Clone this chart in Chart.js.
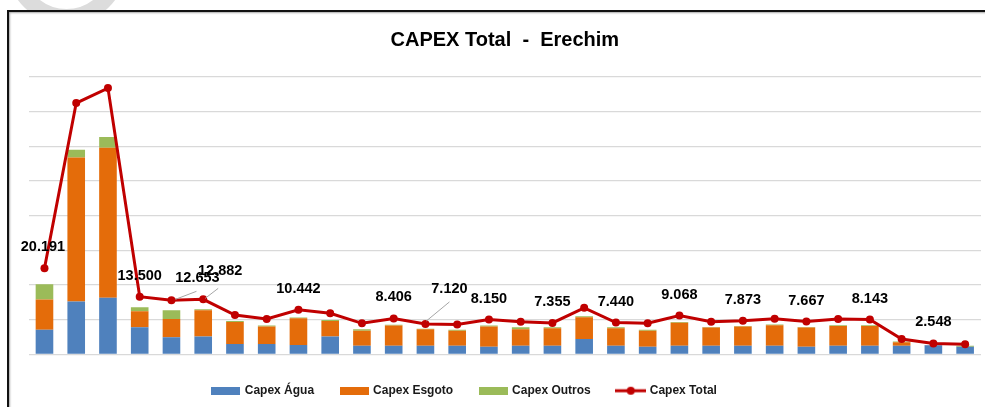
<!DOCTYPE html>
<html>
<head>
<meta charset="utf-8">
<script src="https://cdn.jsdelivr.net/npm/chart.js@4.4.1/dist/chart.umd.min.js"></script>
<style>
    html, body { margin: 0; padding: 0; background: #fff; width: 985px; height: 407px; overflow: hidden; }
    .mark { position: absolute; left: 7px; top: -94px; width: 119px; height: 119px; box-sizing: border-box;
            border: 16px solid #dcdcdc; border-radius: 50%; z-index: 0; }
    .frame { position: absolute; left: 7px; top: 10px; width: 1100px; height: 500px; background: #fff;
             border-left: 2px solid #111; border-top: 2px solid #111;
             box-shadow: inset 1px 1px 2px rgba(0,0,0,0.35); z-index: 1; }
    #capexChart { position: absolute; left: 0; top: 0; z-index: 2; }
</style>
</head>
<body>
<div class="mark"></div>
<div class="frame"></div>
<canvas id="capexChart" width="985" height="407"></canvas>
<script>
// CAPEX Total - Erechim (R$ mil)
const periods = ['1', '2', '3', '4', '5', '6', '7', '8', '9', '10',
                 '11', '12', '13', '14', '15', '16', '17', '18', '19', '20',
                 '21', '22', '23', '24', '25', '26', '27', '28', '29', '30'];

const capexAgua = [7100, 15200, 16300, 7800, 4900, 5100, 3000, 3000, 2700, 5100,
                   2500, 2500, 2500, 2500, 2200, 2500, 2500, 4400, 2500, 2200,
                   2500, 2500, 2500, 2500, 2200, 2500, 2500, 2500, 2600, 2200];

const capexEsgoto = [8700, 41600, 43300, 4600, 5300, 7600, 6300, 5000, 7700, 4500,
                     4300, 5800, 4700, 4300, 5800, 4700, 5000, 6300, 5000, 4600,
                     6600, 5200, 5500, 5900, 5500, 5700, 5700, 1000, 100, 0];

const capexOutros = [4400, 2200, 3100, 1200, 2500, 300, 300, 300, 200, 300,
                     400, 200, 200, 300, 300, 600, 300, 300, 300, 300,
                     200, 200, 200, 200, 200, 200, 200, 200, 0, 300];

const capexTotal = [20191, 58900, 62400, 13500, 12653, 12882, 9200, 8270, 10442, 9600,
                    7260, 8406, 7120, 7000, 8150, 7630, 7355, 10900, 7440, 7260,
                    9068, 7630, 7873, 8340, 7667, 8270, 8143, 3580, 2548, 2340];

// which points of the total line get a value label
const labelledPoints = [0, 3, 4, 5, 8, 11, 12, 14, 16, 18, 20, 22, 24, 26, 28];

const colors = {
    agua: '#4F81BD',
    esgoto: '#E46C0A',
    outros: '#9BBB59',
    total: '#C00000',
    grid: '#d9d9d9',
    text: '#1a1a1a'
};

const FONT = "'Liberation Sans', Arial, sans-serif";

// label placement relative to its point, plus leader lines for the moved ones
const labelOffsets = {
    0: { dx: -1.5, dy: -21.5 },
    4: { dx: 26, dy: -22, leader: [4, -1, 25, -9] },
    5: { dx: 17, dy: -28, leader: [2, -1, 15, -11] },
    12: { dx: 24, dy: -35, leader: [1, -3, 24, -22] }
};

function formatMil(v) {
    return Math.round(v).toString().replace(/\B(?=(\d{3})+(?!\d))/g, '.');
}

function boxSwatch(color) {
    const c = document.createElement('canvas');
    c.width = 29; c.height = 8;
    const g = c.getContext('2d');
    g.fillStyle = color;
    g.fillRect(0, 0, 29, 8);
    return c;
}

function lineSwatch(color) {
    const c = document.createElement('canvas');
    c.width = 31; c.height = 10;
    const g = c.getContext('2d');
    g.strokeStyle = color;
    g.lineWidth = 3;
    g.beginPath();
    g.moveTo(0, 5);
    g.lineTo(31, 5);
    g.stroke();
    g.fillStyle = color;
    g.beginPath();
    g.arc(15.5, 5, 4, 0, Math.PI * 2);
    g.fill();
    return c;
}

const valueLabels = {
    id: 'valueLabels',
    afterLayout(chart) {
        // legend sits left of centre in the original
        const lg = chart.legend;
        if (lg) {
            lg.left -= 40; lg.right -= 40;
            lg.top += 3.4; lg.bottom += 3.4;
        }
    },
    afterDatasetsDraw(chart) {
        const ctx = chart.ctx;
        const meta = chart.getDatasetMeta(3);
        ctx.save();
        labelledPoints.forEach(i => {
            const pt = meta.data[i];
            if (!pt) return;
            const off = labelOffsets[i] || { dx: 0, dy: -21 };
            if (off.leader) {
                const l = off.leader;
                ctx.strokeStyle = '#a6a6a6';
                ctx.lineWidth = 1;
                ctx.beginPath();
                ctx.moveTo(pt.x + l[0], pt.y + l[1]);
                ctx.lineTo(pt.x + l[2], pt.y + l[3]);
                ctx.stroke();
            }
            ctx.fillStyle = '#000';
            ctx.font = 'bold 14.5px ' + FONT;
            ctx.textAlign = 'center';
            ctx.textBaseline = 'middle';
            ctx.fillText(formatMil(capexTotal[i]), pt.x + off.dx, pt.y + off.dy);
        });
        ctx.restore();
    }
};

const legendItems = [
    { text: 'Capex Água', pointStyle: boxSwatch(colors.agua) },
    { text: 'Capex Esgoto', pointStyle: boxSwatch(colors.esgoto) },
    { text: 'Capex Outros', pointStyle: boxSwatch(colors.outros) },
    { text: 'Capex Total', pointStyle: lineSwatch(colors.total) }
];

new Chart(document.getElementById('capexChart'), {
    type: 'bar',
    data: {
        labels: periods,
        datasets: [
            {
                label: 'Capex Água',
                data: capexAgua,
                backgroundColor: colors.agua,
                yAxisID: 'y',
                order: 1
            },
            {
                label: 'Capex Esgoto',
                data: capexEsgoto,
                backgroundColor: colors.esgoto,
                yAxisID: 'y',
                order: 1
            },
            {
                label: 'Capex Outros',
                data: capexOutros,
                backgroundColor: colors.outros,
                yAxisID: 'y',
                order: 1
            },
            {
                type: 'line',
                label: 'Capex Total',
                data: capexTotal,
                borderColor: colors.total,
                backgroundColor: colors.total,
                borderWidth: 3,
                pointRadius: 4,
                pointBorderWidth: 0,
                pointBackgroundColor: colors.total,
                tension: 0,
                yAxisID: 'y1',
                order: 0
            }
        ]
    },
    options: {
        responsive: false,
        animation: false,
        devicePixelRatio: 1,
        layout: {
            padding: { left: 28.6, right: 4, top: 0, bottom: 3.7 }
        },
        datasets: {
            bar: { barPercentage: 1, categoryPercentage: 0.555 }
        },
        scales: {
            x: {
                stacked: true,
                display: false
            },
            y: {
                stacked: true,
                min: 0,
                max: 80000,
                ticks: { display: false, stepSize: 10000 },
                grid: { color: colors.grid, lineWidth: 1.2, drawTicks: false },
                border: { display: false }
            },
            y1: {
                display: false,
                position: 'right',
                min: 0,
                max: 65000
            }
        },
        plugins: {
            title: {
                display: true,
                text: 'CAPEX Total  -  Erechim',
                color: '#000',
                font: { family: FONT, size: 20, weight: 'bold' },
                padding: { top: 28, bottom: 25 }
            },
            legend: {
                position: 'bottom',
                labels: {
                    usePointStyle: true,
                    pointStyleWidth: 26,
                    boxHeight: 8,
                    padding: 27,
                    color: colors.text,
                    font: { family: FONT, size: 12, weight: 'bold' },
                    generateLabels: () => legendItems.map((it, i) => ({
                        text: it.text,
                        pointStyle: it.pointStyle,
                        fillStyle: 'transparent',
                        strokeStyle: 'transparent',
                        lineWidth: 0,
                        fontColor: colors.text,
                        datasetIndex: i,
                        hidden: false
                    }))
                }
            },
            tooltip: { enabled: false }
        }
    },
    plugins: [valueLabels]
});
</script>
</body>
</html>
